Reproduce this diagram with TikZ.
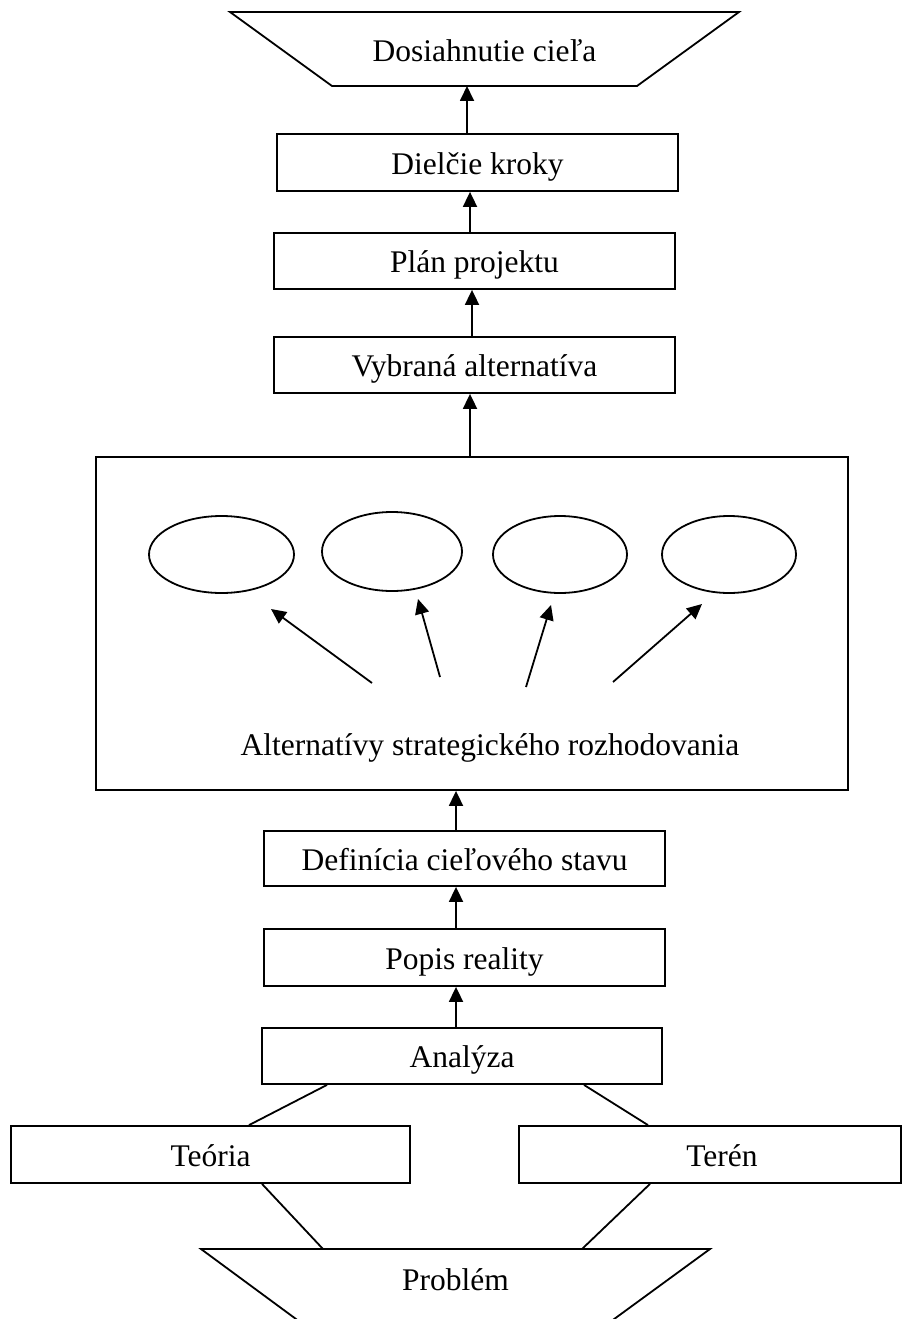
\documentclass[tikz,border=0pt]{standalone}
\usepackage{fontspec}
\setmainfont{Liberation Serif}
\usetikzlibrary{arrows.meta,shapes.geometric}
\begin{document}
\begin{tikzpicture}[x=1pt,y=-1pt,line width=1.8pt,
  every node/.style={font=\fontsize{31.5}{36}\selectfont, inner sep=0pt},
  box/.style={draw, rectangle, text height=23pt, text depth=0pt},
  ghost/.style={rectangle, outer sep=0pt, text depth=0pt},
  oval/.style={draw, ellipse},
  arr/.style={-{Triangle[length=15pt,width=14pt]}}]

\path[use as bounding box] (0,0) rectangle (912,1319);
\clip (0,0) rectangle (912,1319);

% goal (inverted trapezoid at the top)
\node[ghost, minimum width=305pt, minimum height=74pt, text height=26pt] (goal) at (484.5,49) {Dosiahnutie cieľa};
\draw (goal.south west) -- ([xshift=-102pt]goal.north west) -- ([xshift=102pt]goal.north east) -- (goal.south east) -- cycle;

% chain of steps
\node[box, minimum width=401pt, minimum height=57pt] (steps) at (477.5,162.5) {Dielčie kroky};
\node[box, minimum width=401pt, minimum height=56pt] (plan) at (474.5,261) {Plán projektu};
\node[box, minimum width=401pt, minimum height=56pt] (chosen) at (474.5,365) {Vybraná alternatíva};

% block of alternatives
\node[draw, rectangle, minimum width=752pt, minimum height=333pt] (alts) at (472,623.5) {};
\node[anchor=base] (altslabel) at (490,755) {Alternatívy strategického rozhodovania};
\node[oval, minimum width=145pt, minimum height=77pt] (e1) at (221.5,554.5) {};
\node[oval, minimum width=140pt, minimum height=79pt] (e2) at (392,551.5) {};
\node[oval, minimum width=134pt, minimum height=77pt] (e3) at (560,554.5) {};
\node[oval, minimum width=134pt, minimum height=77pt] (e4) at (729,554.5) {};
\coordinate (t1) at (372,683); \coordinate (h1) at (271,609);
\coordinate (t2) at (440,677); \coordinate (h2) at (418,599);
\coordinate (t3) at (526,687); \coordinate (h3) at (551,605);
\coordinate (t4) at (613,682); \coordinate (h4) at (702,604);
\draw[arr] (t1) -- (h1);
\draw[arr] (t2) -- (h2);
\draw[arr] (t3) -- (h3);
\draw[arr] (t4) -- (h4);

% lower chain
\node[box, minimum width=401pt, minimum height=55pt] (target) at (464.5,858.5) {Definícia cieľového stavu};
\node[box, minimum width=401pt, minimum height=57pt] (reality) at (464.5,957.5) {Popis reality};
\node[box, minimum width=400pt, minimum height=56pt] (analysis) at (462,1056) {Analýza};
\node[box, minimum width=399.5pt, minimum height=57pt] (theory) at (210.5,1154.5) {Teória};
\node[box, minimum width=382pt, minimum height=57pt] (field) at (710,1154.5) {};
\node[anchor=base] (fieldlabel) at (722,1166.5) {Terén};

% problem (trapezoid at the bottom)
\node[ghost, minimum width=509pt, minimum height=60pt, text height=23pt] (prob) at (455.5,1279) {Problém};
\draw ([shift={(114,84)}]prob.north west) -- (prob.north west) -- (prob.north east) -- ([shift={(-115,84)}]prob.north east);

% upward arrows
\draw[arr] ([xshift=-10.5pt]steps.north) -- ([xshift=-17.5pt]goal.south);
\draw[arr] ([xshift=-4.5pt]plan.north) -- ([xshift=-7.5pt]steps.south);
\draw[arr] ([xshift=-2.5pt]chosen.north) -- ([xshift=-2.5pt]plan.south);
\draw[arr] ([xshift=-2pt]alts.north) -- ([xshift=-4.5pt]chosen.south);
\draw[arr] ([xshift=-8.5pt]target.north) -- ([xshift=-16pt]alts.south);
\draw[arr] ([xshift=-8.5pt]reality.north) -- ([xshift=-8.5pt]target.south);
\draw[arr] ([xshift=-6pt]analysis.north) -- ([xshift=-8.5pt]reality.south);

% plain links
\draw ([xshift=-135pt]analysis.south) -- ([xshift=38.5pt]theory.north);
\draw ([xshift=122pt]analysis.south) -- ([xshift=-62pt]field.north);
\draw ([xshift=51.5pt]theory.south) -- ([xshift=-132.5pt]prob.north);
\draw ([xshift=-60pt]field.south) -- ([xshift=126.5pt]prob.north);
\end{tikzpicture}
\end{document}
